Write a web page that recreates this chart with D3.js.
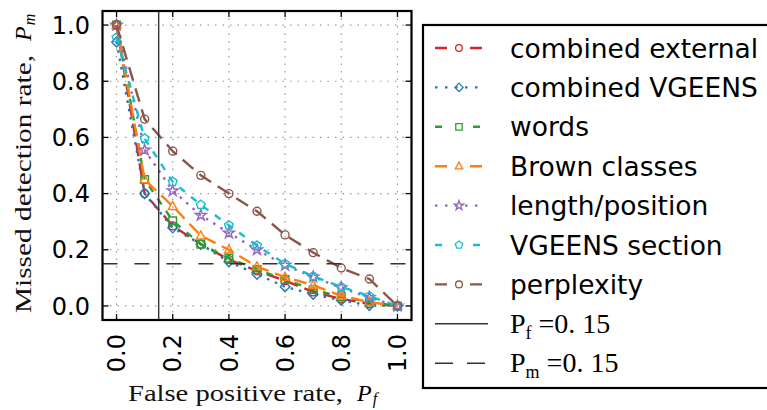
<!DOCTYPE html>
<html>
<head>
<meta charset="utf-8">
<script src="https://cdn.jsdelivr.net/npm/d3@7"></script>
<style>
  html, body { margin: 0; padding: 0; background: #fff; }
  svg { display: block; }
</style>
</head>
<body>
<svg id="chart" width="767" height="410"></svg>
<script>
// ==============================
// DATA
// ==============================
const falsePositive = [0, 0.1, 0.2, 0.3, 0.4, 0.5, 0.6, 0.7, 0.8, 0.9, 1.0];

const combinedExternal = [1.0, 0.40, 0.285, 0.22, 0.165, 0.125, 0.09, 0.05, 0.025, 0.008, 0];
const combinedVGEENS   = [0.94, 0.40, 0.278, 0.22, 0.157, 0.113, 0.068, 0.042, 0.02, 0.002, 0];
const words            = [1.0, 0.45, 0.303, 0.22, 0.17, 0.13, 0.094, 0.058, 0.032, 0.014, 0];
const brownClasses     = [1.0, 0.45, 0.355, 0.25, 0.20, 0.14, 0.103, 0.074, 0.036, 0.014, 0];
const lengthPosition   = [1.0, 0.555, 0.41, 0.323, 0.26, 0.20, 0.145, 0.103, 0.065, 0.03, 0];
const vgeensSection    = [0.955, 0.596, 0.442, 0.36, 0.287, 0.215, 0.15, 0.106, 0.068, 0.035, 0];
const perplexity       = [1.0, 0.665, 0.551, 0.465, 0.40, 0.337, 0.253, 0.19, 0.135, 0.096, 0];

const seriesNames = ["combined external", "combined VGEENS", "words", "Brown classes",
                     "length/position", "VGEENS section", "perplexity"];
const seriesValues = [combinedExternal, combinedVGEENS, words, brownClasses,
                      lengthPosition, vgeensSection, perplexity];

const tickValues = [0, 0.2, 0.4, 0.6, 0.8, 1.0];
const thresholdPf = 0.15;
const thresholdPm = 0.15;

// ==============================
// STYLES
// ==============================
const colors  = ["#d62728", "#1f77b4", "#2ca02c", "#ff7f0e", "#9467bd", "#17becf", "#8c564b"];
const markers = ["circle", "diamond", "square", "triangle", "star", "pentagon", "circle"];
const dashes  = ["13,7", "2.5,6", "7,8", "13,7", "2.5,6", "7,8", "14,8"];
const legendDashes = ["12,23", "2.5,7.5", "7,31", "12,23", "2.5,7.5", "7,31", "12,23"];

const svg = d3.select("#chart");

const x = d3.scaleLinear().domain([-0.05, 1.05]).range([102.5, 411.5]);
const y = d3.scaleLinear().domain([-0.05, 1.05]).range([320, 11]);

function markerPath(type) {
  if (type === "circle") return d3.symbol(d3.symbolCircle, Math.PI * 16)();
  if (type === "square") return "M-3.8,-3.8H3.8V3.8H-3.8Z";
  if (type === "diamond") return "M0,-5L4.8,0L0,5L-4.8,0Z";
  if (type === "triangle") return "M0,-4.8L4.4,3.2L-4.4,3.2Z";
  if (type === "star") return d3.symbol(d3.symbolStar, 38)();
  if (type === "pentagon") {
    const pts = d3.range(5).map(i => {
      const a = -Math.PI / 2 + i * 2 * Math.PI / 5;
      return [4.6 * Math.cos(a), 4.6 * Math.sin(a)];
    });
    return "M" + pts.join("L") + "Z";
  }
}

// ==============================
// GRID
// ==============================
const grid = svg.append("g");
grid.selectAll("line.gx").data(tickValues).enter().append("line")
  .attr("x1", d => x(d)).attr("x2", d => x(d))
  .attr("y1", y.range()[0]).attr("y2", y.range()[1])
  .attr("stroke", "#999").attr("stroke-width", 1.2).attr("stroke-dasharray", "1.5,6");
grid.selectAll("line.gy").data(tickValues).enter().append("line")
  .attr("y1", d => y(d)).attr("y2", d => y(d))
  .attr("x1", x.range()[0]).attr("x2", x.range()[1])
  .attr("stroke", "#999").attr("stroke-width", 1.2).attr("stroke-dasharray", "1.5,6");

// ==============================
// SERIES
// ==============================
const line = d3.line().x(d => x(d[0])).y(d => y(d[1]));
const plot = svg.append("g");

seriesValues.forEach((vals, i) => {
  const pts = falsePositive.map((fp, j) => [fp, vals[j]]);
  plot.append("path")
    .attr("d", line(pts))
    .attr("fill", "none")
    .attr("stroke", colors[i])
    .attr("stroke-width", 2.4)
    .attr("stroke-dasharray", dashes[i]);
  plot.selectAll(null).data(pts).enter().append("path")
    .attr("d", markerPath(markers[i]))
    .attr("transform", d => `translate(${x(d[0])},${y(d[1])})`)
    .attr("fill", "none")
    .attr("stroke", colors[i])
    .attr("stroke-width", 1.4);
});

// threshold lines
svg.append("line")
  .attr("x1", x(thresholdPf)).attr("x2", x(thresholdPf))
  .attr("y1", y.range()[0]).attr("y2", y.range()[1])
  .attr("stroke", "#333").attr("stroke-width", 1.4);
svg.append("line")
  .attr("x1", x.range()[0]).attr("x2", x.range()[1])
  .attr("y1", y(thresholdPm)).attr("y2", y(thresholdPm))
  .attr("stroke", "#333").attr("stroke-width", 1.6).attr("stroke-dasharray", "15,17");

// ==============================
// AXES (ticks inward on all sides)
// ==============================
const tl = 6;
const ticks = svg.append("g").attr("stroke", "#000").attr("stroke-width", 1.3);
tickValues.forEach(t => {
  ticks.append("line").attr("x1", x(t)).attr("x2", x(t)).attr("y1", y.range()[0]).attr("y2", y.range()[0] - tl);
  ticks.append("line").attr("x1", x(t)).attr("x2", x(t)).attr("y1", y.range()[1]).attr("y2", y.range()[1] + tl);
  ticks.append("line").attr("y1", y(t)).attr("y2", y(t)).attr("x1", x.range()[0]).attr("x2", x.range()[0] + tl);
  ticks.append("line").attr("y1", y(t)).attr("y2", y(t)).attr("x1", x.range()[1]).attr("x2", x.range()[1] - tl);
});

svg.append("rect")
  .attr("x", x.range()[0]).attr("y", y.range()[1])
  .attr("width", x.range()[1] - x.range()[0])
  .attr("height", y.range()[0] - y.range()[1])
  .attr("fill", "none").attr("stroke", "#000").attr("stroke-width", 2.2);

const fmt = d3.format(".1f");
svg.append("g").selectAll("text").data(tickValues).enter().append("text")
  .attr("x", 90).attr("y", d => y(d)).attr("dy", "0.36em")
  .attr("text-anchor", "end")
  .style("font-family", "DejaVu Sans").style("font-size", "24px")
  .text(fmt);

svg.append("g").selectAll("text").data(tickValues).enter().append("text")
  .attr("transform", d => `translate(${x(d)},334) rotate(-90)`)
  .attr("dy", "0.36em")
  .attr("text-anchor", "end")
  .style("font-family", "DejaVu Sans").style("font-size", "24px")
  .text(fmt);

// axis labels (serif, stretched to the reference width)
const serif = "Liberation Serif";
svg.append("text")
  .attr("x", 128).attr("y", 401)
  .attr("textLength", 215).attr("lengthAdjust", "spacingAndGlyphs")
  .style("font-family", serif).style("font-size", "24px").style("fill", "#111")
  .text("False positive rate,");
const xp = svg.append("text").attr("x", 357).attr("y", 401)
  .style("font-family", serif).style("font-size", "24px").style("font-style", "italic");
xp.append("tspan").text("P");
xp.append("tspan").style("font-size", "16px").attr("dy", 3).attr("dx", 1).text("f");

svg.append("text")
  .attr("transform", "translate(31,313) rotate(-90)")
  .attr("textLength", 258).attr("lengthAdjust", "spacingAndGlyphs")
  .style("font-family", serif).style("font-size", "24px").style("fill", "#111")
  .text("Missed detection rate,");
const yp = svg.append("text").attr("transform", "translate(31,41) rotate(-90)")
  .style("font-family", serif).style("font-size", "24px").style("font-style", "italic");
yp.append("tspan").text("P");
yp.append("tspan").style("font-size", "16px").attr("dy", 4).attr("dx", 1).text("m");

// ==============================
// LEGEND
// ==============================
const legend = svg.append("g");
legend.append("rect")
  .attr("x", 423).attr("y", 25).attr("width", 380).attr("height", 363)
  .attr("fill", "#fff").attr("stroke", "#000").attr("stroke-width", 2.2);

const rowY = i => 48 + i * 39.4;
seriesNames.forEach((name, i) => {
  const yy = rowY(i);
  legend.append("line")
    .attr("x1", 435).attr("x2", 482).attr("y1", yy).attr("y2", yy)
    .attr("stroke", colors[i]).attr("stroke-width", 2.4)
    .attr("stroke-dasharray", legendDashes[i]);
  legend.append("path")
    .attr("d", markerPath(markers[i]))
    .attr("transform", `translate(459,${yy}) scale(0.85)`)
    .attr("fill", "none").attr("stroke", colors[i]).attr("stroke-width", 1.5);
  legend.append("text")
    .attr("x", 510).attr("y", yy).attr("dy", "0.36em")
    .style("font-family", "DejaVu Sans").style("font-size", "26.5px")
    .text(name);
});

const thrLabels = [["f", "none"], ["m", "18,14"]];
thrLabels.forEach((d, k) => {
  const yy = rowY(7 + k);
  legend.append("line")
    .attr("x1", 435).attr("x2", 488).attr("y1", yy).attr("y2", yy)
    .attr("stroke", "#333").attr("stroke-width", 1.5)
    .attr("stroke-dasharray", d[1]);
  const t = legend.append("text")
    .attr("x", 510).attr("y", yy).attr("dy", "0.33em")
    .style("font-family", serif).style("font-size", "28px");
  t.append("tspan").text("P");
  t.append("tspan").style("font-size", "18px").attr("dy", 6).text(d[0]);
  t.append("tspan").attr("dy", -6).text(" =0. 15");
});
</script>
</body>
</html>
